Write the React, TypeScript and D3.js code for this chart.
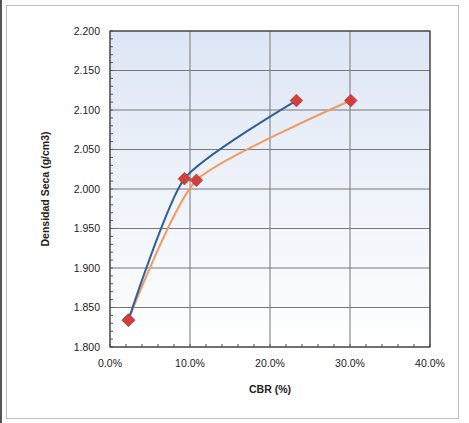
import React from "react";
import * as d3 from "d3";

// lecturas del gráfico (CBR en fracción, densidad g/cm3)
const cbrA = [0.023, 0.093, 0.233];
const densA = [1.834, 2.013, 2.112];
const cbrB = [0.023, 0.108, 0.301];
const densB = [1.834, 2.011, 2.112];
const xTicks = [0, 0.1, 0.2, 0.3, 0.4];
const yTicks = [1.8, 1.85, 1.9, 1.95, 2.0, 2.05, 2.1, 2.15, 2.2];

const W = 469;
const H = 423;
const margin = {top: 31, right: 39, bottom: 76, left: 110};

const App: React.FC = () => {
    const innerW = W - margin.left - margin.right;
    const innerH = H - margin.top - margin.bottom;

    const x = d3.scaleLinear().domain([0, 0.4]).range([0, innerW]);
    const y = d3.scaleLinear().domain([1.8, 2.2]).range([innerH, 0]);

    const line = d3.line<[number, number]>()
        .x(d => x(d[0]))
        .y(d => y(d[1]))
        .curve(d3.curveCardinal.tension(0.4));

    const serieA = cbrA.map((c, i) => [c, densA[i]] as [number, number]);
    const serieB = cbrB.map((c, i) => [c, densB[i]] as [number, number]);

    const minorX = d3.range(0, 0.4001, 0.02);
    const minorY = d3.range(1.8, 2.2001, 0.01);
    const fmtX = d3.format(".1%");
    const fmtY = d3.format(".3f");

    const font = "Arial, 'Liberation Sans', sans-serif";

    return (
        <svg width={W} height={H} style={{position: "absolute", left: 0, top: 0, background: "#fff"}}>
            <defs>
                <linearGradient id="fondo" x1="0" y1="0" x2="0" y2="1">
                    <stop offset="0%" stopColor="#dde6f5"/>
                    <stop offset="100%" stopColor="#ffffff"/>
                </linearGradient>
            </defs>
            <rect x={0} y={0} width={2} height={H} fill="#555"/>
            <rect x={6.5} y={5.5} width={452} height={413} fill="#fff" stroke="#bbb"/>
            <g transform={`translate(${margin.left},${margin.top})`}>
                <rect x={0} y={0} width={innerW} height={innerH} fill="url(#fondo)"/>
                {yTicks.map(t => (
                    <line key={"gy" + t} x1={0} x2={innerW} y1={y(t)} y2={y(t)} stroke="#777" strokeWidth={1}/>
                ))}
                {xTicks.map(t => (
                    <line key={"gx" + t} x1={x(t)} x2={x(t)} y1={0} y2={innerH} stroke="#777" strokeWidth={1}/>
                ))}
                {minorX.map(t => (
                    <line key={"mx" + t} x1={x(t)} x2={x(t)} y1={innerH} y2={innerH - 3} stroke="#555"/>
                ))}
                {minorY.map(t => (
                    <line key={"my" + t} x1={0} x2={3} y1={y(t)} y2={y(t)} stroke="#555"/>
                ))}
                <rect x={0} y={0} width={innerW} height={innerH} fill="none" stroke="#444" strokeWidth={1.2}/>
                {yTicks.map(t => (
                    <text key={"ly" + t} x={-10} y={y(t)} dy="0.35em" textAnchor="end"
                          fontFamily={font} fontSize={10.5} fill="#222">{fmtY(t)}</text>
                ))}
                {xTicks.map(t => (
                    <text key={"lx" + t} x={x(t)} y={innerH + 16} dy="0.35em" textAnchor="middle"
                          fontFamily={font} fontSize={10.5} fill="#222">{fmtX(t)}</text>
                ))}
                <path d={line(serieB) || ""} fill="none" stroke="#f39a5e" strokeWidth={2}/>
                <path d={line(serieA) || ""} fill="none" stroke="#2f5f9e" strokeWidth={2}/>
                {[...serieA, ...serieB].map((d, i) => (
                    <rect key={"m" + i} x={x(d[0]) - 4.5} y={y(d[1]) - 4.5} width={9} height={9}
                          transform={`rotate(45 ${x(d[0])} ${y(d[1])})`} fill="#d2403e" stroke="#a52a2a" strokeWidth={0.5}/>
                ))}
                <text x={innerW / 2} y={innerH + 46} textAnchor="middle" fontFamily={font}
                      fontSize={10.5} fontWeight="bold" fill="#222">CBR  (%)</text>
                <text transform={`translate(-61,${innerH / 2}) rotate(-90)`} textAnchor="middle"
                      fontFamily={font} fontSize={10.5} fontWeight="bold" fill="#222">Densidad Seca (g/cm3)</text>
            </g>
        </svg>
    );
};

export default App;
